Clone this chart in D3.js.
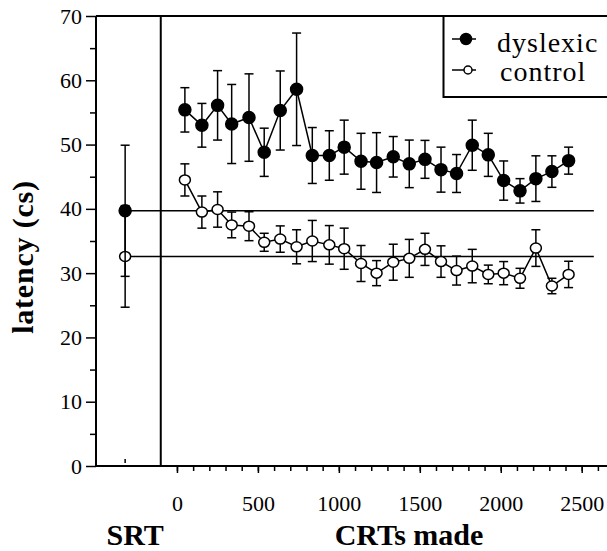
<!DOCTYPE html>
<html>
<head>
<meta charset="utf-8">
<script src="https://cdn.jsdelivr.net/npm/d3@7"></script>
<style>
@font-face { font-family: 'ChartSerif'; font-weight: normal; src: local('Liberation Serif'), local('LiberationSerif'), local('LiberationSerif-Regular'); }
@font-face { font-family: 'ChartSerif'; font-weight: bold; src: local('Liberation Serif Bold'), local('LiberationSerif-Bold'); }
body { margin: 0; }
svg text { font-family: 'Liberation Serif', 'ChartSerif', 'Times New Roman', Times, serif !important; }
</style>
</head>
<body>
<script>
// CRT trial position (bin centre)
const CRT_X = [49, 154, 251, 338, 445, 539, 638, 739, 836, 941, 1033, 1137, 1233,
    1336, 1435, 1532, 1631, 1727, 1824, 1923, 2018, 2119, 2217, 2316, 2419];

const DYS_MEAN = [55.4, 53.0, 56.1, 53.2, 54.2, 48.8, 55.3, 58.6, 48.3, 48.3, 49.6, 47.4, 47.2,
    48.1, 47.0, 47.7, 46.1, 45.5, 49.9, 48.4, 44.4, 42.8, 44.7, 45.8, 47.5];
const DYS_ERR = [3.45, 3.4, 5.4, 6.15, 6.8, 3.75, 6.15, 8.75, 4.35, 3.85, 4.2, 4.35, 4.65,
    3.15, 3.7, 2.95, 3.5, 2.95, 3.9, 3.35, 3.05, 1.9, 3.55, 2.45, 2.1];

const CON_MEAN = [44.5, 39.5, 39.9, 37.5, 37.3, 34.8, 35.3, 34.1, 35.0, 34.4, 33.8, 31.5, 30.0,
    31.7, 32.3, 33.7, 31.8, 30.4, 31.1, 29.8, 30.0, 29.2, 33.9, 28.0, 29.8];
const CON_ERR = [2.5, 2.5, 2.75, 2.0, 2.25, 1.4, 2.05, 2.65, 3.2, 3.0, 3.2, 2.8, 1.95,
    2.8, 2.95, 2.5, 2.45, 2.25, 2.6, 1.45, 1.8, 1.55, 2.85, 1.2, 2.05];

// simple reaction time, shown left of the divider
const SRT_X = -320;
const SRT_MEAN = {dyslexic: 39.7, control: 32.6};
const SRT_ERR = {dyslexic: 10.2, control: 7.9};
const SRT_LINE_END = 2575;
const DIVIDER_X = -100;

const X_TICKS = [0, 500, 1000, 1500, 2000, 2500];
const Y_TICKS = [0, 10, 20, 30, 40, 50, 60, 70];

var width = 607, height = 551;

var svg = d3.select('body')
    .append('svg')
    .attr('width', width)
    .attr('height', height);

var x = d3.scaleLinear().domain([-500, 2500]).range([96, 581.7]);
var y = d3.scaleLinear().domain([0, 70]).range([466, 16]);

function serif(sel, size) {
    sel.attr('font-size', size).attr('fill', '#000');
}

function title(sel) {
    serif(sel, 30);
    sel.attr('font-weight', 'bold')
    .attr('text-anchor', 'middle');
}

function drawAxes() {
    // minor ticks first, majors on top
    svg.append('g')
    .attr('transform', 'translate(0,466)')
    .call(d3.axisBottom(x).tickValues(d3.range(0, 2601, 100)).tickSize(5).tickFormat(''))
    .call(g => g.select('.domain').remove())
    .selectAll('line').attr('stroke-width', 1.5);

    svg.append('g')
    .attr('class', 'axis')
    .attr('transform', 'translate(0,466)')
    .call(d3.axisBottom(x).tickValues(X_TICKS).tickSize(7).tickPadding(22).tickFormat(d3.format('d')))
    .call(g => g.select('.domain').remove())
    .selectAll('line').attr('stroke-width', 1.5);

    svg.append('g')
    .attr('transform', 'translate(96,0)')
    .call(d3.axisLeft(y).tickValues(d3.range(5, 70, 10)).tickSize(6).tickFormat(''))
    .call(g => g.select('.domain').remove())
    .selectAll('line').attr('stroke-width', 1.5);

    svg.append('g')
    .attr('class', 'axis')
    .attr('transform', 'translate(96,0)')
    .call(d3.axisLeft(y).tickValues(Y_TICKS).tickSize(10).tickPadding(4))
    .call(g => g.select('.domain').remove())
    .selectAll('line').attr('stroke-width', 1.5);

    svg.selectAll('g').attr('font-family', null);
    svg.selectAll('.axis text').call(serif, 22);

    // frame: left, bottom, top, divider
    var frame = svg.append('g').attr('stroke', '#000').attr('stroke-width', 2).attr('fill', 'none');
    frame.append('line').attr('x1', 96).attr('x2', 96).attr('y1', y(70)).attr('y2', y(0));
    frame.append('line').attr('x1', 96).attr('x2', width).attr('y1', y(0)).attr('y2', y(0));
    frame.append('line').attr('x1', 96).attr('x2', width).attr('y1', y(70)).attr('y2', y(70));
    frame.append('line').attr('x1', x(DIVIDER_X)).attr('x2', x(DIVIDER_X)).attr('y1', y(70)).attr('y2', y(0));

    // little inner tick under the SRT point
    svg.append('line')
    .attr('x1', x(SRT_X)).attr('x2', x(SRT_X))
    .attr('y1', y(0) - 3).attr('y2', y(0) - 7)
    .attr('stroke', '#000').attr('stroke-width', 1.5);

    svg.append('text')
    .attr('transform', 'translate(33,' + 257 + ') rotate(-90)')
    .call(title)
    .attr('letter-spacing', 0.8)
    .text('latency (cs)');

    svg.append('text')
    .attr('x', x(SRT_X) + 10).attr('y', 545)
    .call(title)
    .text('SRT');

    svg.append('text')
    .attr('x', 409).attr('y', 545)
    .call(title)
    .text('CRTs made');
}

function drawSeries(xs, means, errs, filled) {
    var pts = xs.map((v, i) => ({x: v, m: means[i], e: errs[i]}));
    var g = svg.append('g');

    g.append('path')
    .datum(pts)
    .attr('fill', 'none')
    .attr('stroke', '#000')
    .attr('stroke-width', 1.5)
    .attr('d', d3.line().x(d => x(d.x)).y(d => y(d.m)));

    drawErrors(g, pts);
    drawMarkers(g, pts, filled);
}

function drawErrors(g, pts) {
    var eb = g.selectAll('.err').data(pts).enter().append('g').attr('class', 'err')
    .attr('stroke', '#000').attr('stroke-width', 1.5);
    eb.append('line')
    .attr('x1', d => x(d.x)).attr('x2', d => x(d.x))
    .attr('y1', d => y(d.m + d.e)).attr('y2', d => y(d.m - d.e));
    eb.append('line')
    .attr('x1', d => x(d.x) - 4.5).attr('x2', d => x(d.x) + 4.5)
    .attr('y1', d => y(d.m + d.e)).attr('y2', d => y(d.m + d.e));
    eb.append('line')
    .attr('x1', d => x(d.x) - 4.5).attr('x2', d => x(d.x) + 4.5)
    .attr('y1', d => y(d.m - d.e)).attr('y2', d => y(d.m - d.e));
}

function drawMarkers(g, pts, filled) {
    g.selectAll('.pt').data(pts).enter().append('ellipse')
    .attr('class', 'pt')
    .attr('cx', d => x(d.x)).attr('cy', d => y(d.m))
    .attr('rx', filled ? 6 : 5.5).attr('ry', filled ? 6 : 5)
    .attr('fill', filled ? '#000' : '#fff')
    .attr('stroke', '#000').attr('stroke-width', 1.5);
}

function drawSRT() {
    var lines = svg.append('g').attr('stroke', '#000').attr('stroke-width', 1.5);
    ['dyslexic', 'control'].forEach(k => {
        lines.append('line')
        .attr('x1', x(SRT_X)).attr('x2', x(SRT_LINE_END))
        .attr('y1', y(SRT_MEAN[k])).attr('y2', y(SRT_MEAN[k]));
    });
}

function drawLegend() {
    var lg = svg.append('g');
    lg.append('rect')
    .attr('x', 443.5).attr('y', 16).attr('width', 200).attr('height', 81)
    .attr('fill', '#fff').attr('stroke', '#000').attr('stroke-width', 2);

    var items = [
        {label: 'dyslexic', filled: true, y: 39, ty: 52},
        {label: 'control', filled: false, y: 70, ty: 81}
    ];
    items.forEach(it => {
        lg.append('line')
        .attr('x1', 452).attr('x2', 476).attr('y1', it.y).attr('y2', it.y)
        .attr('stroke', '#000').attr('stroke-width', 1.5);
        lg.append('circle')
        .attr('cx', it.filled ? 466 : 468).attr('cy', it.y).attr('r', it.filled ? 5.5 : 4)
        .attr('fill', it.filled ? '#000' : '#fff')
        .attr('stroke', '#000').attr('stroke-width', 1.5);
        lg.append('text')
        .attr('x', it.filled ? 497 : 500).attr('y', it.ty)
        .call(serif, 28)
        .attr('letter-spacing', 1)
        .text(it.label);
    });
}

drawAxes();
drawSRT();
drawSeries(CRT_X, DYS_MEAN, DYS_ERR, true);
drawSeries(CRT_X, CON_MEAN, CON_ERR, false);
// SRT points on their own, no connecting line
var srtG = svg.append('g');
drawErrors(srtG, [{x: SRT_X, m: SRT_MEAN.control, e: SRT_ERR.control}]);
drawMarkers(srtG, [{x: SRT_X, m: SRT_MEAN.control, e: SRT_ERR.control}], false);
var srtD = svg.append('g');
drawErrors(srtD, [{x: SRT_X, m: SRT_MEAN.dyslexic, e: SRT_ERR.dyslexic}]);
drawMarkers(srtD, [{x: SRT_X, m: SRT_MEAN.dyslexic, e: SRT_ERR.dyslexic}], true);
drawLegend();
</script>
</body>
</html>
